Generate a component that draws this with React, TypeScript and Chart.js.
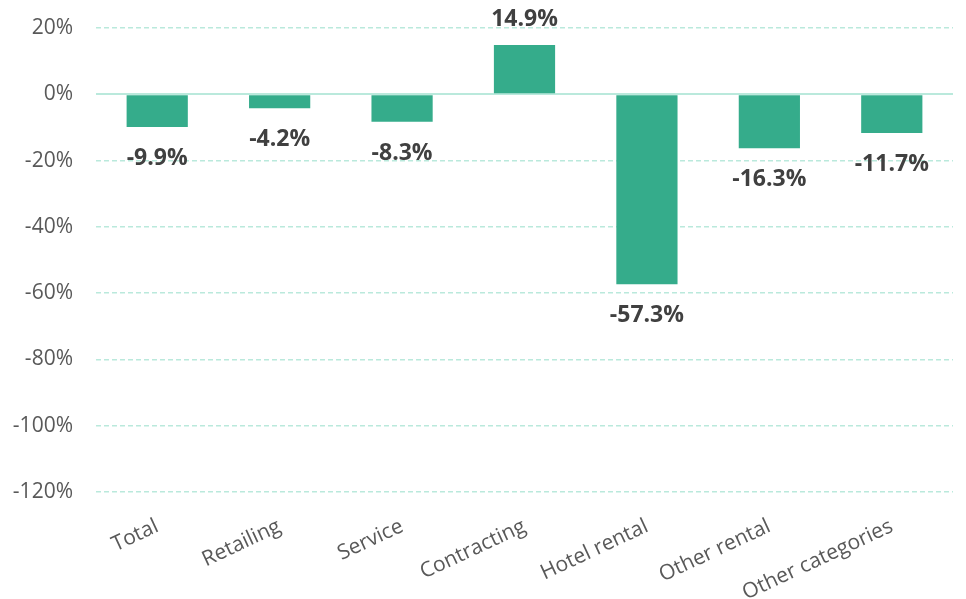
import React, { useEffect, useRef } from "react";
import { Chart, registerables } from "chart.js";

Chart.register(...registerables);

const categories = ["Total", "Retailing", "Service", "Contracting", "Hotel rental", "Other rental", "Other categories"];
const values = [-9.9, -4.2, -8.3, 14.9, -57.3, -16.3, -11.7];
const yMin = -120;
const yMax = 20;
const yStep = 20;

const BAR_COLOR = "#35AC8B";
const GRID_COLOR = "#BAE9DC";
const TEXT_COLOR = "#595959";
const LABEL_COLOR = "#404040";
const FONT = "'Open Sans', 'DejaVu Sans', sans-serif";

const valueLabels = {
  id: "valueLabels",
  afterDatasetsDraw(chart: any) {
    const ctx = chart.ctx;
    const meta = chart.getDatasetMeta(0);
    ctx.save();
    ctx.font = `bold 23px ${FONT}`;
    ctx.fillStyle = LABEL_COLOR;
    ctx.textAlign = "center";
    ctx.textBaseline = "alphabetic";
    meta.data.forEach((bar: any, i: number) => {
      const v = values[i];
      const txt = v.toFixed(1) + "%";
      const y = v < 0 ? bar.y + 38 : bar.y - 19;
      ctx.fillText(txt, bar.x, y);
    });
    ctx.restore();
  },
};

export default function App() {
  const ref = useRef<HTMLCanvasElement>(null);
  useEffect(() => {
    document.body.style.margin = "0";
    const chart = new Chart(ref.current!, {
      type: "bar",
      data: {
        labels: categories,
        datasets: [
          {
            data: values,
            backgroundColor: BAR_COLOR,
            borderWidth: 0,
            barPercentage: 0.5,
            categoryPercentage: 1,
          },
        ],
      },
      options: {
        animation: false,
        responsive: false,
        maintainAspectRatio: false,
        layout: { padding: { top: 28, right: 13, left: 0, bottom: 0 } },
        plugins: { legend: { display: false }, tooltip: { enabled: false } },
        scales: {
          x: {
            grid: { display: false, drawTicks: false },
            border: { display: false },
            ticks: {
              color: TEXT_COLOR,
              font: { family: FONT, size: 21 },
              minRotation: 25,
              maxRotation: 25,
              padding: 22,
              autoSkip: false,
            },
            afterFit: (s: any) => {
              s.height = 107;
            },
          },
          y: {
            min: yMin,
            max: yMax,
            grid: {
              drawTicks: true,
              tickLength: 20,
              tickColor: "rgba(0,0,0,0)",
              color: GRID_COLOR,
              lineWidth: (c: any) => (c.tick && c.tick.value === 0 ? 2 : 1.5),
            },
            border: {
              display: false,
              dash: (c: any) => (c.tick && c.tick.value === 0 ? [] : [5, 3]),
            },
            ticks: {
              stepSize: yStep,
              color: TEXT_COLOR,
              font: { family: FONT, size: 21 },
              padding: 3,
              callback: (v: any) => v + "%",
            },
            afterFit: (s: any) => {
              s.width = 96;
            },
          },
        },
      },
      plugins: [valueLabels],
    });
    return () => chart.destroy();
  }, []);
  return (
    <div style={{ width: 966, height: 599 }}>
      <canvas ref={ref} width={966} height={599} style={{ width: 966, height: 599, display: "block" }} />
    </div>
  );
}
